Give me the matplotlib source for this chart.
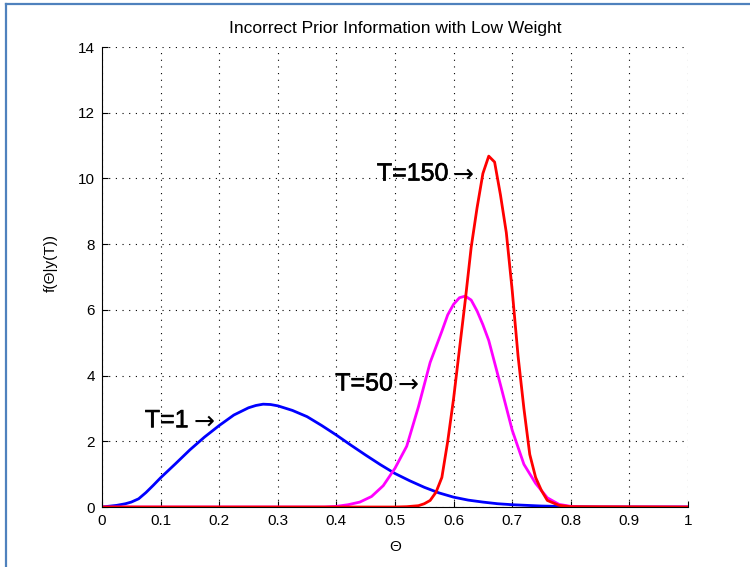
import matplotlib
matplotlib.use("Agg")
import matplotlib.pyplot as plt
from matplotlib.lines import Line2D
import matplotlib.patheffects as pe

plt.rcParams['font.family'] = ['Liberation Sans', 'DejaVu Sans']
plt.rcParams['mathtext.fontset'] = 'dejavusans'

# ---- data ----
x_t1 = [0.0, 0.01, 0.025, 0.04, 0.05, 0.0625, 0.075, 0.0875, 0.10, 0.125, 0.15, 0.175,
        0.20, 0.225, 0.25, 0.2625, 0.275, 0.2875, 0.30, 0.325, 0.35, 0.375, 0.40,
        0.425, 0.45, 0.475, 0.50, 0.525, 0.55, 0.575, 0.60, 0.625, 0.65, 0.675,
        0.70, 0.725, 0.75, 0.775, 0.80, 0.85, 1.0]
y_t1 = [0.0, 0.02, 0.05, 0.10, 0.15, 0.25, 0.44, 0.66, 0.89, 1.31, 1.74, 2.13,
        2.48, 2.80, 3.02, 3.09, 3.13, 3.12, 3.08, 2.94, 2.75, 2.48, 2.19,
        1.88, 1.58, 1.29, 1.02, 0.80, 0.60, 0.43, 0.30, 0.21, 0.15, 0.10,
        0.07, 0.05, 0.03, 0.02, 0.01, 0.0, 0.0]

x_t50 = [0.0, 0.15, 0.38, 0.40, 0.42, 0.44, 0.46, 0.48, 0.50, 0.52, 0.54, 0.56, 0.58,
         0.59, 0.60, 0.61, 0.62, 0.63, 0.64, 0.65, 0.66, 0.68, 0.70, 0.72, 0.74,
         0.76, 0.78, 0.80, 0.82, 1.0]
y_t50 = [0.0, 0.0, 0.0, 0.02, 0.07, 0.15, 0.32, 0.65, 1.18, 1.85, 3.05, 4.40, 5.35,
         5.85, 6.17, 6.37, 6.42, 6.30, 5.97, 5.55, 5.07, 3.72, 2.34, 1.30, 0.72,
         0.28, 0.08, 0.02, 0.0, 0.0]

x_t150 = [0.0, 0.50, 0.52, 0.54, 0.55, 0.56, 0.57, 0.58, 0.59, 0.60, 0.61, 0.62, 0.63,
          0.64, 0.65, 0.66, 0.67, 0.68, 0.69, 0.70, 0.71, 0.72, 0.73, 0.74, 0.75,
          0.76, 0.78, 0.80, 1.0]
y_t150 = [0.0, 0.0, 0.01, 0.04, 0.10, 0.20, 0.45, 0.90, 2.0, 3.3, 4.8, 6.3, 7.9,
          9.1, 10.15, 10.68, 10.5, 9.5, 8.35, 6.6, 4.6, 3.0, 1.6, 0.9, 0.5,
          0.2, 0.05, 0.01, 0.0]

title_text = "Incorrect Prior Information with Low Weight"
xlabel_text = "\u0398"
ylabel_text = "f(\u0398|y(T))"
xticks = [0, 0.1, 0.2, 0.3, 0.4, 0.5, 0.6, 0.7, 0.8, 0.9, 1]
xtick_labels = ["0", "0.1", "0.2", "0.3", "0.4", "0.5", "0.6", "0.7", "0.8", "0.9", "1"]
yticks = [0, 2, 4, 6, 8, 10, 12, 14]
ytick_labels = ["0", "2", "4", "6", "8", "10", "12", "14"]
annotations = [("T=1", 0.073, 2.64), ("T=50", 0.398, 3.76), ("T=150", 0.469, 10.15)]

# ---- figure ----
fig = plt.figure(figsize=(7.5, 5.67), dpi=100)
fig.patch.set_facecolor("white")
ax = fig.add_axes([0.136, 0.1058, 0.7813, 0.8112])

ax.plot(x_t1, y_t1, color="#0000ff", lw=2.0, zorder=3)
ax.plot(x_t50, y_t50, color="#ff00ff", lw=2.0, zorder=4)
ax.plot(x_t150, y_t150, color="#ff0000", lw=2.0, zorder=5)

ax.set_xlim(0, 1)
ax.set_ylim(0, 14)
ax.set_xticks(xticks)
ax.set_xticklabels(xtick_labels)
ax.set_yticks(yticks)
ax.set_yticklabels(ytick_labels)
ax.tick_params(direction="in", length=4.5, width=0.8, labelsize=11, pad=5, colors="black")

ax.grid(True, color="black", linestyle=(0, (1, 5)), linewidth=0.8)
ax.set_axisbelow(True)
for s in ["top", "right"]:
    ax.spines[s].set_visible(False)
for s in ["left", "bottom"]:
    ax.spines[s].set_linewidth(0.8)
    ax.spines[s].set_zorder(6)

ax.set_title(title_text, fontsize=12.5, pad=10)
ax.set_xlabel(xlabel_text, fontsize=11, labelpad=9)
ax.set_ylabel(ylabel_text, fontsize=11, labelpad=10)
ax.yaxis.set_label_coords(-0.075, 0.53)

for txt, tx, ty in annotations:
    t = ax.text(tx, ty, txt, fontsize=18, ha="left", va="center", zorder=7)
    t.set_path_effects([pe.withStroke(linewidth=0.45, foreground="black")])
    ax.annotate(r"$\rightarrow$", xy=(1.0, 0.5), xycoords=t, xytext=(0, 0),
                textcoords="offset points", fontsize=18, ha="left", va="center", zorder=7)

# blue frame lines at the left and top of the picture
fig.add_artist(Line2D([0.0075, 0.0075], [0.0, 0.993], transform=fig.transFigure,
                      color="#4f81bd", lw=1.6))
fig.add_artist(Line2D([0.0075, 1.0], [0.993, 0.993], transform=fig.transFigure,
                      color="#4f81bd", lw=1.6))

fig.savefig("out.png", dpi=100, facecolor="white")
